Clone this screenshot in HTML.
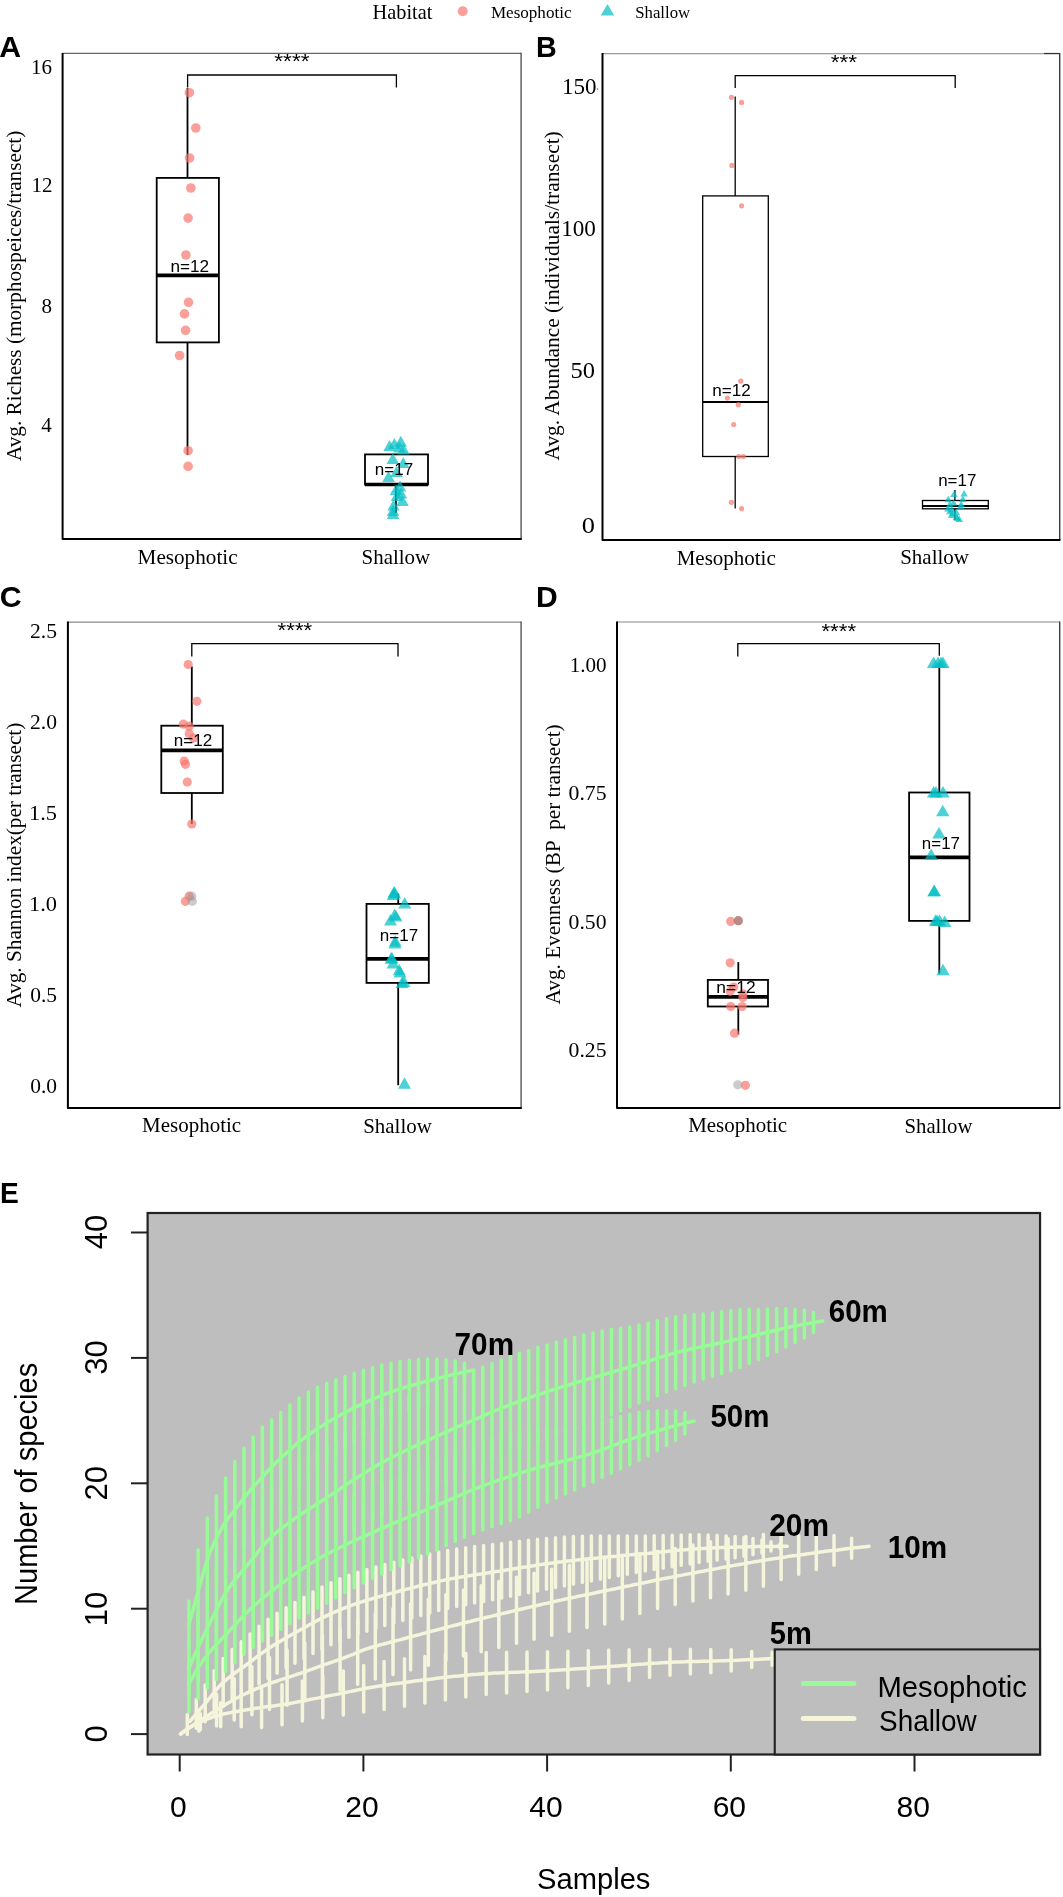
<!DOCTYPE html><html><head><meta charset="utf-8"><style>html,body{margin:0;padding:0;background:#fff;}svg{display:block;will-change:transform;} .s{font-family:"Liberation Sans",sans-serif;} .r{font-family:"Liberation Serif",serif;}</style></head><body><svg width="1063" height="1897" viewBox="0 0 1063 1897">
<rect width="1063" height="1897" fill="#fff"/>
<text x="372.61" y="19.3" class="r" font-size="20.2" fill="#000" textLength="59.80" lengthAdjust="spacingAndGlyphs">Habitat</text>
<circle cx="462.7" cy="11.3" r="5.0" fill="#F8766D" fill-opacity="0.7"/>
<text x="490.90" y="17.6" class="r" font-size="17" fill="#000" textLength="80.62" lengthAdjust="spacingAndGlyphs">Mesophotic</text>
<path d="M607.5,3.9 L600.75,15.50 L614.25,15.50Z" fill="#00BFC4" fill-opacity="0.7"/>
<text x="635.18" y="17.6" class="r" font-size="17" fill="#000" textLength="54.99" lengthAdjust="spacingAndGlyphs">Shallow</text>
<text x="-0.76" y="56.7" class="s" font-size="30" fill="#000" font-weight="bold" textLength="21.85" lengthAdjust="spacingAndGlyphs">A</text>
<line x1="62.6" y1="53.4" x2="521.1" y2="53.4" stroke="#666" stroke-width="1.2" stroke-linecap="butt"/>
<line x1="521.1" y1="52.8" x2="521.1" y2="538.9" stroke="#555" stroke-width="1.4" stroke-linecap="butt"/>
<path d="M62.6,52.9 L62.6,538.9 L521.8000000000001,538.9" stroke="#000" stroke-width="2.0" fill="none" stroke-linejoin="round"/>
<text x="30.93" y="73.6" class="r" font-size="21">16</text>
<text x="31.45" y="192.4" class="r" font-size="21">12</text>
<text x="41.60" y="312.5" class="r" font-size="21">8</text>
<text x="41.14" y="432.2" class="r" font-size="21">4</text>
<text x="20.9" y="461.01" class="r" font-size="21.5" fill="#000" textLength="330.34" lengthAdjust="spacingAndGlyphs" transform="rotate(-90 20.9 461.01)">Avg. Richess (morphospeices/transect)</text>
<path d="M187.6,87.4 L187.6,75 L396.4,75 L396.4,87.4" stroke="#000" stroke-width="1.3" fill="none"/>
<text x="274.24" y="67.9" class="s" font-size="21" fill="#000" textLength="35.34" lengthAdjust="spacingAndGlyphs">****</text>
<line x1="187.5" y1="88" x2="187.5" y2="177.9" stroke="#000" stroke-width="1.8" stroke-linecap="butt"/>
<line x1="187.5" y1="342.4" x2="187.5" y2="455" stroke="#000" stroke-width="1.8" stroke-linecap="butt"/>
<rect x="156.7" y="177.9" width="62.20000000000002" height="164.49999999999997" fill="#fff" stroke="#000" stroke-width="1.8"/>
<line x1="156.7" y1="275.4" x2="218.9" y2="275.4" stroke="#000" stroke-width="3.7" stroke-linecap="butt"/>
<circle cx="189.4" cy="92.7" r="4.8" fill="#F8766D" fill-opacity="0.7"/>
<circle cx="195.8" cy="128" r="4.8" fill="#F8766D" fill-opacity="0.7"/>
<circle cx="189.6" cy="158" r="4.8" fill="#F8766D" fill-opacity="0.7"/>
<circle cx="190.8" cy="188" r="4.8" fill="#F8766D" fill-opacity="0.7"/>
<circle cx="188.1" cy="218.1" r="4.8" fill="#F8766D" fill-opacity="0.7"/>
<circle cx="185.9" cy="255" r="4.8" fill="#F8766D" fill-opacity="0.7"/>
<circle cx="188.5" cy="302.3" r="4.8" fill="#F8766D" fill-opacity="0.7"/>
<circle cx="184.5" cy="313.9" r="4.8" fill="#F8766D" fill-opacity="0.7"/>
<circle cx="185.6" cy="330.3" r="4.8" fill="#F8766D" fill-opacity="0.7"/>
<circle cx="179.6" cy="355.5" r="4.8" fill="#F8766D" fill-opacity="0.7"/>
<circle cx="188.1" cy="450.7" r="4.8" fill="#F8766D" fill-opacity="0.7"/>
<circle cx="188.1" cy="466.4" r="4.8" fill="#F8766D" fill-opacity="0.7"/>
<text x="170.47" y="271.5" class="s" font-size="16.8" fill="#000" textLength="38.70" lengthAdjust="spacingAndGlyphs">n=12</text>
<line x1="395.9" y1="484.5" x2="395.9" y2="454.4" stroke="#000" stroke-width="1.8" stroke-linecap="butt"/>
<line x1="395.9" y1="484.5" x2="395.9" y2="513" stroke="#000" stroke-width="1.8" stroke-linecap="butt"/>
<rect x="365" y="454.4" width="63" height="30.100000000000023" fill="#fff" stroke="#000" stroke-width="1.8"/>
<line x1="365" y1="484.5" x2="428" y2="484.5" stroke="#000" stroke-width="3.7" stroke-linecap="butt"/>
<path d="M389.6,440 L383.35,451.00 L395.85,451.00Z" fill="#00BFC4" fill-opacity="0.7"/>
<path d="M394.4,438 L388.15,449.00 L400.65,449.00Z" fill="#00BFC4" fill-opacity="0.7"/>
<path d="M400.75,435.75 L394.50,446.75 L407.00,446.75Z" fill="#00BFC4" fill-opacity="0.7"/>
<path d="M399.5,441.5 L393.25,452.50 L405.75,452.50Z" fill="#00BFC4" fill-opacity="0.7"/>
<path d="M403.5,443.5 L397.25,454.50 L409.75,454.50Z" fill="#00BFC4" fill-opacity="0.7"/>
<path d="M392.75,453 L386.50,464.00 L399.00,464.00Z" fill="#00BFC4" fill-opacity="0.7"/>
<path d="M403.25,457 L397.00,468.00 L409.50,468.00Z" fill="#00BFC4" fill-opacity="0.7"/>
<path d="M388.5,471 L382.25,482.00 L394.75,482.00Z" fill="#00BFC4" fill-opacity="0.7"/>
<path d="M396.5,466 L390.25,477.00 L402.75,477.00Z" fill="#00BFC4" fill-opacity="0.7"/>
<path d="M400,480.5 L393.75,491.50 L406.25,491.50Z" fill="#00BFC4" fill-opacity="0.7"/>
<path d="M396,484 L389.75,495.00 L402.25,495.00Z" fill="#00BFC4" fill-opacity="0.7"/>
<path d="M401,487.5 L394.75,498.50 L407.25,498.50Z" fill="#00BFC4" fill-opacity="0.7"/>
<path d="M402.5,495 L396.25,506.00 L408.75,506.00Z" fill="#00BFC4" fill-opacity="0.7"/>
<path d="M393.5,499.5 L387.25,510.50 L399.75,510.50Z" fill="#00BFC4" fill-opacity="0.7"/>
<path d="M393,505 L386.75,516.00 L399.25,516.00Z" fill="#00BFC4" fill-opacity="0.7"/>
<path d="M393,508 L386.75,519.00 L399.25,519.00Z" fill="#00BFC4" fill-opacity="0.7"/>
<path d="M397,490 L390.75,501.00 L403.25,501.00Z" fill="#00BFC4" fill-opacity="0.7"/>
<text x="374.88" y="474.6" class="s" font-size="16.8" fill="#000" textLength="38.38" lengthAdjust="spacingAndGlyphs">n=17</text>
<text x="137.59" y="563.9" class="r" font-size="21" fill="#000" textLength="99.96" lengthAdjust="spacingAndGlyphs">Mesophotic</text>
<text x="361.60" y="564" class="r" font-size="21" fill="#000" textLength="68.48" lengthAdjust="spacingAndGlyphs">Shallow</text>
<text x="535.98" y="56.7" class="s" font-size="30" fill="#000" font-weight="bold" textLength="20.72" lengthAdjust="spacingAndGlyphs">B</text>
<line x1="602.5" y1="53.6" x2="1059.7" y2="53.6" stroke="#999" stroke-width="1.2" stroke-linecap="butt"/>
<line x1="1059.7" y1="53.0" x2="1059.7" y2="540.0" stroke="#3a3a3a" stroke-width="1.4" stroke-linecap="butt"/>
<path d="M602.5,53.1 L602.5,540.0 L1060.4,540.0" stroke="#000" stroke-width="2.0" fill="none" stroke-linejoin="round"/>
<line x1="1044" y1="53.5" x2="1059.7" y2="53.5" stroke="#333" stroke-width="1.2" stroke-linecap="butt"/>
<circle cx="597.5" cy="89.1" r="0.8" fill="#555" fill-opacity="0.8"/>
<text x="561.98" y="93.5" class="r" font-size="22.5" fill="#000" textLength="34.50" lengthAdjust="spacingAndGlyphs">150</text>
<text x="561.16" y="236.2" class="r" font-size="22.5" fill="#000" textLength="34.72" lengthAdjust="spacingAndGlyphs">100</text>
<text x="570.48" y="377.8" class="r" font-size="22.5" fill="#000" textLength="24.45" lengthAdjust="spacingAndGlyphs">50</text>
<text x="581.80" y="532.7" class="r" font-size="22.5" fill="#000" textLength="13.21" lengthAdjust="spacingAndGlyphs">0</text>
<text x="559.4" y="460.41" class="r" font-size="21.5" fill="#000" textLength="329.15" lengthAdjust="spacingAndGlyphs" transform="rotate(-90 559.4 460.41)">Avg. Abundance (individuals/transect)</text>
<path d="M735.2,88 L735.2,75.7 L955.2,75.7 L955.2,88" stroke="#000" stroke-width="1.3" fill="none"/>
<text x="830.74" y="68.9" class="s" font-size="21" fill="#000" textLength="26.33" lengthAdjust="spacingAndGlyphs">***</text>
<line x1="735.2" y1="96.5" x2="735.2" y2="195.9" stroke="#000" stroke-width="1.3" stroke-linecap="butt"/>
<line x1="735.2" y1="456.5" x2="735.2" y2="508.6" stroke="#000" stroke-width="1.3" stroke-linecap="butt"/>
<rect x="702.7" y="195.9" width="65.59999999999991" height="260.6" fill="#fff" stroke="#000" stroke-width="1.3"/>
<line x1="702.7" y1="401.9" x2="768.3" y2="401.9" stroke="#000" stroke-width="2.0" stroke-linecap="butt"/>
<circle cx="731.4" cy="97.3" r="2.6" fill="#F8766D" fill-opacity="0.7"/>
<circle cx="741.6" cy="102.4" r="2.6" fill="#F8766D" fill-opacity="0.7"/>
<circle cx="731.9" cy="165.4" r="2.6" fill="#F8766D" fill-opacity="0.7"/>
<circle cx="741.6" cy="205.8" r="2.6" fill="#F8766D" fill-opacity="0.7"/>
<circle cx="740.8" cy="381.1" r="2.6" fill="#F8766D" fill-opacity="0.7"/>
<circle cx="727.4" cy="398.1" r="2.6" fill="#F8766D" fill-opacity="0.7"/>
<circle cx="738.3" cy="404.7" r="2.6" fill="#F8766D" fill-opacity="0.7"/>
<circle cx="733.7" cy="424.5" r="2.6" fill="#F8766D" fill-opacity="0.7"/>
<circle cx="738.8" cy="456.5" r="2.6" fill="#F8766D" fill-opacity="0.7"/>
<circle cx="743.4" cy="456.5" r="2.6" fill="#F8766D" fill-opacity="0.7"/>
<circle cx="731.4" cy="502.3" r="2.6" fill="#F8766D" fill-opacity="0.7"/>
<circle cx="741.6" cy="508.6" r="2.6" fill="#F8766D" fill-opacity="0.7"/>
<text x="712.37" y="396" class="s" font-size="17" fill="#000" textLength="38.49" lengthAdjust="spacingAndGlyphs">n=12</text>
<line x1="954.9" y1="490" x2="954.9" y2="500.5" stroke="#000" stroke-width="1.3" stroke-linecap="butt"/>
<line x1="954.9" y1="508.8" x2="954.9" y2="520" stroke="#000" stroke-width="1.3" stroke-linecap="butt"/>
<rect x="922.5" y="500.5" width="65.79999999999995" height="8.300000000000011" fill="#fff" stroke="#000" stroke-width="1.3"/>
<line x1="922.5" y1="505.9" x2="988.3" y2="505.9" stroke="#000" stroke-width="2.0" stroke-linecap="butt"/>
<path d="M954,490.6 L950.25,497.10 L957.75,497.10Z" fill="#00BFC4" fill-opacity="0.7"/>
<path d="M964.1,490 L960.35,496.50 L967.85,496.50Z" fill="#00BFC4" fill-opacity="0.7"/>
<path d="M948.2,495.8 L944.45,502.30 L951.95,502.30Z" fill="#00BFC4" fill-opacity="0.7"/>
<path d="M962.8,495.4 L959.05,501.90 L966.55,501.90Z" fill="#00BFC4" fill-opacity="0.7"/>
<path d="M949.8,500.7 L946.05,507.20 L953.55,507.20Z" fill="#00BFC4" fill-opacity="0.7"/>
<path d="M953.6,499.2 L949.85,505.70 L957.35,505.70Z" fill="#00BFC4" fill-opacity="0.7"/>
<path d="M961.2,500.7 L957.45,507.20 L964.95,507.20Z" fill="#00BFC4" fill-opacity="0.7"/>
<path d="M947.9,504.9 L944.15,511.40 L951.65,511.40Z" fill="#00BFC4" fill-opacity="0.7"/>
<path d="M951.7,505.9 L947.95,512.40 L955.45,512.40Z" fill="#00BFC4" fill-opacity="0.7"/>
<path d="M960.8,503 L957.05,509.50 L964.55,509.50Z" fill="#00BFC4" fill-opacity="0.7"/>
<path d="M949.8,507.8 L946.05,514.30 L953.55,514.30Z" fill="#00BFC4" fill-opacity="0.7"/>
<path d="M952.6,509.7 L948.85,516.20 L956.35,516.20Z" fill="#00BFC4" fill-opacity="0.7"/>
<path d="M956.4,508.8 L952.65,515.30 L960.15,515.30Z" fill="#00BFC4" fill-opacity="0.7"/>
<path d="M951.7,511.6 L947.95,518.10 L955.45,518.10Z" fill="#00BFC4" fill-opacity="0.7"/>
<path d="M957.4,514.5 L953.65,521.00 L961.15,521.00Z" fill="#00BFC4" fill-opacity="0.7"/>
<path d="M959.3,515.4 L955.55,521.90 L963.05,521.90Z" fill="#00BFC4" fill-opacity="0.7"/>
<path d="M956.4,513.5 L952.65,520.00 L960.15,520.00Z" fill="#00BFC4" fill-opacity="0.7"/>
<text x="938.18" y="485.8" class="s" font-size="17" fill="#000" textLength="38.17" lengthAdjust="spacingAndGlyphs">n=17</text>
<text x="676.69" y="564.5" class="r" font-size="21" fill="#000" textLength="99.05" lengthAdjust="spacingAndGlyphs">Mesophotic</text>
<text x="900.19" y="564.1" class="r" font-size="21" fill="#000" textLength="68.79" lengthAdjust="spacingAndGlyphs">Shallow</text>
<text x="-0.39" y="606.8" class="s" font-size="30" fill="#000" font-weight="bold" textLength="21.92" lengthAdjust="spacingAndGlyphs">C</text>
<line x1="67.9" y1="622.1" x2="521.1" y2="622.1" stroke="#888" stroke-width="1.4" stroke-linecap="butt"/>
<line x1="521.1" y1="621.5" x2="521.1" y2="1107.9" stroke="#555" stroke-width="1.4" stroke-linecap="butt"/>
<path d="M67.9,621.6 L67.9,1107.9 L521.8000000000001,1107.9" stroke="#000" stroke-width="2.0" fill="none" stroke-linejoin="round"/>
<text x="30.05" y="638.1" class="r" font-size="21" fill="#000" textLength="26.99" lengthAdjust="spacingAndGlyphs">2.5</text>
<text x="30.05" y="728.8" class="r" font-size="21" fill="#000" textLength="26.97" lengthAdjust="spacingAndGlyphs">2.0</text>
<text x="29.03" y="820.2" class="r" font-size="21" fill="#000" textLength="28.05" lengthAdjust="spacingAndGlyphs">1.5</text>
<text x="29.03" y="910.9" class="r" font-size="21" fill="#000" textLength="28.02" lengthAdjust="spacingAndGlyphs">1.0</text>
<text x="30.18" y="1002.4" class="r" font-size="21" fill="#000" textLength="26.85" lengthAdjust="spacingAndGlyphs">0.5</text>
<text x="30.18" y="1093" class="r" font-size="21" fill="#000" textLength="26.83" lengthAdjust="spacingAndGlyphs">0.0</text>
<text x="20.9" y="1007.61" class="r" font-size="21.5" fill="#000" textLength="284.94" lengthAdjust="spacingAndGlyphs" transform="rotate(-90 20.9 1007.61)">Avg. Shannon index(per transect)</text>
<path d="M191.8,656.4 L191.8,643.6 L398,643.6 L398,656.4" stroke="#000" stroke-width="1.3" fill="none"/>
<text x="277.54" y="637.3" class="s" font-size="21" fill="#000" textLength="34.73" lengthAdjust="spacingAndGlyphs">****</text>
<line x1="191.8" y1="666.5" x2="191.8" y2="725.7" stroke="#000" stroke-width="1.8" stroke-linecap="butt"/>
<line x1="191.8" y1="793" x2="191.8" y2="824" stroke="#000" stroke-width="1.8" stroke-linecap="butt"/>
<rect x="161.3" y="725.7" width="61.5" height="67.29999999999995" fill="#fff" stroke="#000" stroke-width="1.8"/>
<line x1="161.3" y1="750.3" x2="222.8" y2="750.3" stroke="#000" stroke-width="3.7" stroke-linecap="butt"/>
<circle cx="188.2" cy="664.5" r="4.6" fill="#F8766D" fill-opacity="0.7"/>
<circle cx="196.9" cy="701.3" r="4.6" fill="#F8766D" fill-opacity="0.7"/>
<circle cx="183.4" cy="724.2" r="4.6" fill="#F8766D" fill-opacity="0.7"/>
<circle cx="189.2" cy="726.2" r="4.6" fill="#F8766D" fill-opacity="0.7"/>
<circle cx="189.2" cy="733.8" r="4.6" fill="#F8766D" fill-opacity="0.7"/>
<circle cx="193.5" cy="738.1" r="4.6" fill="#F8766D" fill-opacity="0.7"/>
<circle cx="184.2" cy="761" r="4.6" fill="#F8766D" fill-opacity="0.7"/>
<circle cx="185.4" cy="764.3" r="4.6" fill="#F8766D" fill-opacity="0.7"/>
<circle cx="187.2" cy="782.1" r="4.6" fill="#F8766D" fill-opacity="0.7"/>
<circle cx="191.8" cy="824" r="4.6" fill="#F8766D" fill-opacity="0.7"/>
<circle cx="189.2" cy="896.2" r="4.6" fill="#F8766D" fill-opacity="0.7"/>
<circle cx="185.4" cy="901.3" r="4.6" fill="#F8766D" fill-opacity="0.7"/>
<circle cx="191.8" cy="896.2" r="4.6" fill="#999" fill-opacity="0.5"/>
<circle cx="192.3" cy="901.3" r="4.6" fill="#999" fill-opacity="0.5"/>
<text x="173.67" y="745.8" class="s" font-size="16.8" fill="#000" textLength="38.49" lengthAdjust="spacingAndGlyphs">n=12</text>
<line x1="398.2" y1="893.6" x2="398.2" y2="903.9" stroke="#000" stroke-width="1.8" stroke-linecap="butt"/>
<line x1="398.2" y1="982.9" x2="398.2" y2="1085.2" stroke="#000" stroke-width="1.8" stroke-linecap="butt"/>
<rect x="366.5" y="903.9" width="62.30000000000001" height="79.0" fill="#fff" stroke="#000" stroke-width="1.8"/>
<line x1="366.5" y1="958.8" x2="428.8" y2="958.8" stroke="#000" stroke-width="3.7" stroke-linecap="butt"/>
<path d="M394.2,885.7 L387.70,897.20 L400.70,897.20Z" fill="#00BFC4" fill-opacity="0.7"/>
<path d="M393.2,888.6 L386.70,900.10 L399.70,900.10Z" fill="#00BFC4" fill-opacity="0.7"/>
<path d="M404.7,897.1 L398.20,908.60 L411.20,908.60Z" fill="#00BFC4" fill-opacity="0.7"/>
<path d="M394.6,908.4 L388.10,919.90 L401.10,919.90Z" fill="#00BFC4" fill-opacity="0.7"/>
<path d="M390.5,914 L384.00,925.50 L397.00,925.50Z" fill="#00BFC4" fill-opacity="0.7"/>
<path d="M395.2,935 L388.70,946.50 L401.70,946.50Z" fill="#00BFC4" fill-opacity="0.7"/>
<path d="M391.2,951.9 L384.70,963.40 L397.70,963.40Z" fill="#00BFC4" fill-opacity="0.7"/>
<path d="M393,957 L386.50,968.50 L399.50,968.50Z" fill="#00BFC4" fill-opacity="0.7"/>
<path d="M399.1,963.7 L392.60,975.20 L405.60,975.20Z" fill="#00BFC4" fill-opacity="0.7"/>
<path d="M404,975.6 L397.50,987.10 L410.50,987.10Z" fill="#00BFC4" fill-opacity="0.7"/>
<path d="M402.1,976.6 L395.60,988.10 L408.60,988.10Z" fill="#00BFC4" fill-opacity="0.7"/>
<path d="M404.5,1077.3 L398.00,1088.80 L411.00,1088.80Z" fill="#00BFC4" fill-opacity="0.7"/>
<path d="M394.5,887 L388.00,898.50 L401.00,898.50Z" fill="#00BFC4" fill-opacity="0.7"/>
<path d="M392,952 L385.50,963.50 L398.50,963.50Z" fill="#00BFC4" fill-opacity="0.7"/>
<path d="M396,910 L389.50,921.50 L402.50,921.50Z" fill="#00BFC4" fill-opacity="0.7"/>
<path d="M395,937 L388.50,948.50 L401.50,948.50Z" fill="#00BFC4" fill-opacity="0.7"/>
<path d="M400,966 L393.50,977.50 L406.50,977.50Z" fill="#00BFC4" fill-opacity="0.7"/>
<text x="379.88" y="941" class="s" font-size="16.8" fill="#000" textLength="38.28" lengthAdjust="spacingAndGlyphs">n=17</text>
<text x="142.09" y="1132.4" class="r" font-size="21" fill="#000" textLength="99.05" lengthAdjust="spacingAndGlyphs">Mesophotic</text>
<text x="363.20" y="1132.6" class="r" font-size="21" fill="#000" textLength="68.58" lengthAdjust="spacingAndGlyphs">Shallow</text>
<text x="535.89" y="606.7" class="s" font-size="30" fill="#000" font-weight="bold" textLength="21.68" lengthAdjust="spacingAndGlyphs">D</text>
<line x1="617.0" y1="622.0" x2="1059.7" y2="622.0" stroke="#888" stroke-width="1.2" stroke-linecap="butt"/>
<line x1="1059.7" y1="621.4" x2="1059.7" y2="1107.9" stroke="#3c3c3c" stroke-width="1.4" stroke-linecap="butt"/>
<path d="M617.0,621.5 L617.0,1107.9 L1060.4,1107.9" stroke="#000" stroke-width="2.0" fill="none" stroke-linejoin="round"/>
<text x="569.65" y="671.6" class="r" font-size="21" fill="#000" textLength="36.85" lengthAdjust="spacingAndGlyphs">1.00</text>
<text x="568.58" y="799.9" class="r" font-size="21" fill="#000" textLength="37.97" lengthAdjust="spacingAndGlyphs">0.75</text>
<text x="568.58" y="928.6" class="r" font-size="21" fill="#000" textLength="37.95" lengthAdjust="spacingAndGlyphs">0.50</text>
<text x="568.58" y="1056.8" class="r" font-size="21" fill="#000" textLength="37.97" lengthAdjust="spacingAndGlyphs">0.25</text>
<text x="559.6" y="1004.41" class="r" font-size="21.5" fill="#000" textLength="280.05" lengthAdjust="spacingAndGlyphs" transform="rotate(-90 559.6 1004.41)">Avg. Evenness (BP&#160;&#160;per transect)</text>
<path d="M737.8,656.4 L737.8,643.7 L939.3,643.7 L939.3,655.7" stroke="#000" stroke-width="1.3" fill="none"/>
<text x="821.44" y="637.9" class="s" font-size="21" fill="#000" textLength="34.63" lengthAdjust="spacingAndGlyphs">****</text>
<line x1="738.3" y1="962.1" x2="738.3" y2="979.9" stroke="#000" stroke-width="1.8" stroke-linecap="butt"/>
<line x1="738.3" y1="1006.5" x2="738.3" y2="1034.5" stroke="#000" stroke-width="1.8" stroke-linecap="butt"/>
<rect x="707.8" y="979.9" width="60.200000000000045" height="26.600000000000023" fill="#fff" stroke="#000" stroke-width="1.8"/>
<line x1="707.8" y1="996.9" x2="768" y2="996.9" stroke="#000" stroke-width="3.7" stroke-linecap="butt"/>
<circle cx="730.7" cy="921.4" r="4.6" fill="#F8766D" fill-opacity="0.7"/>
<circle cx="738.3" cy="920.7" r="4.6" fill="#F8766D" fill-opacity="0.7"/>
<circle cx="730.2" cy="962.8" r="4.6" fill="#F8766D" fill-opacity="0.7"/>
<circle cx="733.7" cy="987" r="4.6" fill="#F8766D" fill-opacity="0.7"/>
<circle cx="730.2" cy="991.3" r="4.6" fill="#F8766D" fill-opacity="0.7"/>
<circle cx="742.9" cy="993.8" r="4.6" fill="#F8766D" fill-opacity="0.7"/>
<circle cx="742.9" cy="997.6" r="4.6" fill="#F8766D" fill-opacity="0.7"/>
<circle cx="730.7" cy="1006.5" r="4.6" fill="#F8766D" fill-opacity="0.7"/>
<circle cx="742.1" cy="1006.5" r="4.6" fill="#F8766D" fill-opacity="0.7"/>
<circle cx="734.5" cy="1033.2" r="4.6" fill="#F8766D" fill-opacity="0.7"/>
<circle cx="745.4" cy="1085.3" r="4.6" fill="#F8766D" fill-opacity="0.7"/>
<circle cx="738.3" cy="920.7" r="4.6" fill="#777" fill-opacity="0.5"/>
<circle cx="737.8" cy="1084.8" r="4.6" fill="#999" fill-opacity="0.5"/>
<text x="716.35" y="992.6" class="s" font-size="16.8" fill="#000" textLength="39.33" lengthAdjust="spacingAndGlyphs">n=12</text>
<line x1="939.3" y1="663" x2="939.3" y2="792.5" stroke="#000" stroke-width="1.8" stroke-linecap="butt"/>
<line x1="939.3" y1="920.9" x2="939.3" y2="973.6" stroke="#000" stroke-width="1.8" stroke-linecap="butt"/>
<rect x="909.1" y="792.5" width="60.39999999999998" height="128.39999999999998" fill="#fff" stroke="#000" stroke-width="1.8"/>
<line x1="909.1" y1="857.3" x2="969.5" y2="857.3" stroke="#000" stroke-width="3.7" stroke-linecap="butt"/>
<path d="M933.6,656.4 L926.90,667.90 L940.30,667.90Z" fill="#00BFC4" fill-opacity="0.7"/>
<path d="M943,656.4 L936.30,667.90 L949.70,667.90Z" fill="#00BFC4" fill-opacity="0.7"/>
<path d="M938,656.4 L931.30,667.90 L944.70,667.90Z" fill="#00BFC4" fill-opacity="0.7"/>
<path d="M933.6,786 L926.90,797.50 L940.30,797.50Z" fill="#00BFC4" fill-opacity="0.7"/>
<path d="M943,786 L936.30,797.50 L949.70,797.50Z" fill="#00BFC4" fill-opacity="0.7"/>
<path d="M942.8,804.8 L936.10,816.30 L949.50,816.30Z" fill="#00BFC4" fill-opacity="0.7"/>
<path d="M939,827.1 L932.30,838.60 L945.70,838.60Z" fill="#00BFC4" fill-opacity="0.7"/>
<path d="M931.1,848.6 L924.40,860.10 L937.80,860.10Z" fill="#00BFC4" fill-opacity="0.7"/>
<path d="M934.3,884.5 L927.60,896.00 L941.00,896.00Z" fill="#00BFC4" fill-opacity="0.7"/>
<path d="M935.5,914.2 L928.80,925.70 L942.20,925.70Z" fill="#00BFC4" fill-opacity="0.7"/>
<path d="M939.5,914.2 L932.80,925.70 L946.20,925.70Z" fill="#00BFC4" fill-opacity="0.7"/>
<path d="M944.7,915.5 L938.00,927.00 L951.40,927.00Z" fill="#00BFC4" fill-opacity="0.7"/>
<path d="M943,963.7 L936.30,975.20 L949.70,975.20Z" fill="#00BFC4" fill-opacity="0.7"/>
<path d="M941,656.4 L934.30,667.90 L947.70,667.90Z" fill="#00BFC4" fill-opacity="0.7"/>
<path d="M936,786 L929.30,797.50 L942.70,797.50Z" fill="#00BFC4" fill-opacity="0.7"/>
<path d="M934,885 L927.30,896.50 L940.70,896.50Z" fill="#00BFC4" fill-opacity="0.7"/>
<path d="M937,914.5 L930.30,926.00 L943.70,926.00Z" fill="#00BFC4" fill-opacity="0.7"/>
<text x="921.88" y="848.6" class="s" font-size="16.8" fill="#000" textLength="38.07" lengthAdjust="spacingAndGlyphs">n=17</text>
<text x="688.19" y="1132.3" class="r" font-size="21" fill="#000" textLength="98.95" lengthAdjust="spacingAndGlyphs">Mesophotic</text>
<text x="904.51" y="1133.2" class="r" font-size="21" fill="#000" textLength="67.97" lengthAdjust="spacingAndGlyphs">Shallow</text>
<text x="0.11" y="1202.8" class="s" font-size="30" fill="#000" font-weight="bold" textLength="18.79" lengthAdjust="spacingAndGlyphs">E</text>
<rect x="147.5" y="1212.8" width="892.8" height="541.3" fill="#BEBEBE"/>
<clipPath id="pc"><rect x="147.5" y="1212.8" width="892.8" height="541.3"/></clipPath>
<g clip-path="url(#pc)">
<path d="M187.3,1714.5V1734.5M196.3,1699.5V1728.3M205.2,1684.9V1721.8M214.2,1670.7V1714.2M223.2,1658.4V1706.4M232.2,1649.5V1700.5M241.2,1641.7V1695.5M250.1,1634.0V1690.1M259.1,1626.2V1684.1M268.1,1619.2V1678.4M277.1,1613.2V1673.2M286.1,1607.7V1668.1M295.0,1602.4V1663.3M304.0,1597.3V1658.5M313.0,1592.0V1653.6M322.0,1587.1V1648.9M331.0,1582.8V1644.7M339.9,1578.8V1640.8M348.9,1575.3V1637.2M357.9,1572.2V1634.1M366.9,1569.5V1631.2M375.9,1566.9V1628.4M384.8,1564.5V1625.6M393.8,1562.2V1623.0M402.8,1560.1V1620.5M411.8,1557.9V1617.9M420.8,1555.9V1615.4M429.7,1553.9V1612.9M438.7,1552.1V1610.6M447.7,1550.4V1608.5M456.7,1548.9V1606.6M465.7,1547.7V1604.8M474.6,1546.5V1603.1M483.6,1545.5V1601.5M492.6,1544.4V1599.8M501.6,1543.4V1598.1M510.6,1542.3V1596.3M519.5,1541.3V1594.5M528.5,1540.2V1592.7M537.5,1539.3V1590.9M546.5,1538.4V1589.2M555.5,1537.7V1587.5M564.4,1537.1V1585.9M573.4,1536.6V1584.3M582.4,1536.3V1582.6M591.4,1536.1V1580.9M600.4,1536.1V1579.2M609.3,1536.1V1577.5M618.3,1536.1V1575.8M627.3,1536.1V1574.2M636.3,1536.0V1572.6M645.3,1535.9V1571.1M654.2,1535.7V1569.6M663.2,1535.4V1568.2M672.2,1535.2V1566.7M681.2,1534.9V1565.3M690.2,1534.8V1563.9M699.1,1534.7V1562.6M708.1,1534.9V1561.3M717.1,1535.3V1560.1M726.1,1535.9V1558.9M735.1,1536.6V1557.7M744.0,1537.5V1556.3M753.0,1538.6V1554.8M762.0,1539.9V1553.2M771.0,1541.8V1551.0M780.0,1544.1V1548.5" stroke="#F5F5DC" stroke-width="3.5" stroke-linecap="round" fill="none"/>
<polyline points="189.8,1721.5 192.8,1718.0 195.8,1714.4 198.8,1710.9 201.8,1707.4 204.8,1703.8 207.8,1700.3 210.8,1696.7 213.8,1692.9 216.8,1689.2 219.8,1685.7 222.8,1682.7 225.8,1680.1 228.8,1677.6 231.8,1675.3 234.8,1673.0 237.8,1670.9 240.8,1668.8 243.8,1666.7 246.8,1664.5 249.8,1662.3 252.8,1660.0 255.8,1657.6 258.8,1655.4 261.8,1653.1 264.9,1651.0 267.9,1648.9 270.9,1647.0 273.9,1645.1 276.9,1643.3 279.9,1641.5 282.9,1639.8 285.9,1638.0 288.9,1636.3 291.9,1634.6 294.9,1632.9 297.9,1631.3 300.9,1629.6 303.9,1628.0 306.9,1626.3 309.9,1624.6 312.9,1622.9 315.9,1621.2 318.9,1619.6 321.9,1618.1 324.9,1616.6 327.9,1615.1 330.9,1613.7 333.9,1612.4 336.9,1611.1 339.9,1609.8 342.9,1608.6 345.9,1607.4 348.9,1606.3 351.9,1605.2 354.9,1604.2 357.9,1603.2 360.9,1602.2 363.9,1601.2 366.9,1600.3 369.9,1599.4 372.9,1598.5 375.9,1597.6 378.9,1596.7 381.9,1595.9 384.9,1595.0 387.9,1594.2 390.9,1593.4 393.9,1592.6 396.9,1591.8 399.9,1591.0 402.9,1590.2 405.9,1589.4 408.9,1588.7 411.9,1587.9 415.0,1587.1 418.0,1586.3 421.0,1585.6 424.0,1584.8 427.0,1584.1 430.0,1583.4 433.0,1582.7 436.0,1582.0 439.0,1581.3 442.0,1580.6 445.0,1580.0 448.0,1579.4 451.0,1578.8 454.0,1578.3 457.0,1577.7 460.0,1577.2 463.0,1576.7 466.0,1576.2 469.0,1575.7 472.0,1575.2 475.0,1574.8 478.0,1574.3 481.0,1573.9 484.0,1573.4 487.0,1573.0 490.0,1572.5 493.0,1572.1 496.0,1571.6 499.0,1571.2 502.0,1570.7 505.0,1570.2 508.0,1569.7 511.0,1569.3 514.0,1568.8 517.0,1568.3 520.0,1567.8 523.0,1567.3 526.0,1566.9 529.0,1566.4 532.0,1565.9 535.0,1565.5 538.0,1565.0 541.0,1564.6 544.0,1564.1 547.0,1563.7 550.0,1563.3 553.0,1562.9 556.0,1562.5 559.0,1562.1 562.0,1561.8 565.1,1561.4 568.1,1561.0 571.1,1560.7 574.1,1560.4 577.1,1560.0 580.1,1559.7 583.1,1559.4 586.1,1559.1 589.1,1558.8 592.1,1558.5 595.1,1558.2 598.1,1557.9 601.1,1557.6 604.1,1557.3 607.1,1557.0 610.1,1556.7 613.1,1556.4 616.1,1556.2 619.1,1555.9 622.1,1555.6 625.1,1555.3 628.1,1555.1 631.1,1554.8 634.1,1554.5 637.1,1554.3 640.1,1554.0 643.1,1553.7 646.1,1553.4 649.1,1553.2 652.1,1552.9 655.1,1552.6 658.1,1552.3 661.1,1552.0 664.1,1551.7 667.1,1551.4 670.1,1551.1 673.1,1550.9 676.1,1550.6 679.1,1550.3 682.1,1550.0 685.1,1549.8 688.1,1549.5 691.1,1549.3 694.1,1549.0 697.1,1548.8 700.1,1548.6 703.1,1548.4 706.1,1548.2 709.1,1548.1 712.1,1547.9 715.2,1547.8 718.2,1547.7 721.2,1547.6 724.2,1547.5 727.2,1547.4 730.2,1547.3 733.2,1547.2 736.2,1547.1 739.2,1547.0 742.2,1547.0 745.2,1546.9 748.2,1546.8 751.2,1546.7 754.2,1546.7 757.2,1546.6 760.2,1546.6 763.2,1546.5 766.2,1546.5 769.2,1546.4 772.2,1546.4 775.2,1546.4 778.2,1546.3 781.2,1546.3 784.2,1546.3 787.2,1546.3" stroke="#F5F5DC" stroke-width="3.5" fill="none" stroke-linejoin="round" stroke-linecap="round"/>
<path d="M198.9,1711.2V1731.2M216.6,1694.1V1726.1M234.2,1678.8V1720.1M251.9,1666.8V1714.8M269.5,1657.5V1709.6M287.1,1650.0V1705.3M304.8,1642.7V1700.6M322.4,1635.4V1695.4M340.1,1628.3V1690.3M357.7,1620.3V1684.3M375.3,1613.5V1678.9M393.0,1608.5V1674.5M410.6,1603.9V1669.9M428.3,1599.2V1665.2M445.9,1594.6V1660.6M463.5,1590.1V1656.1M481.2,1585.7V1651.7M498.8,1581.4V1647.4M516.5,1577.3V1643.3M534.1,1573.2V1639.2M551.7,1569.2V1635.2M569.4,1565.3V1631.3M587.0,1561.5V1627.5M604.7,1557.9V1623.9M622.3,1555.5V1619.0M639.9,1553.5V1613.5M657.6,1551.2V1608.6M675.2,1548.4V1604.4M692.9,1545.1V1601.1M710.5,1541.7V1597.7M728.1,1538.8V1594.1M745.8,1536.4V1590.3M763.4,1534.4V1586.3M781.1,1535.6V1579.6M798.7,1535.8V1574.3M816.3,1535.8V1569.4M834.0,1535.5V1565.2M851.6,1538.2V1558.2" stroke="#F5F5DC" stroke-width="3.5" stroke-linecap="round" fill="none"/>
<polyline points="180.6,1734.0 184.1,1731.5 187.5,1729.0 191.0,1726.6 194.4,1724.2 197.9,1721.9 201.4,1719.6 204.8,1717.4 208.3,1715.2 211.7,1713.0 215.2,1710.9 218.7,1708.8 222.1,1706.7 225.6,1704.5 229.0,1702.4 232.5,1700.4 235.9,1698.5 239.4,1696.7 242.9,1695.0 246.3,1693.3 249.8,1691.7 253.2,1690.2 256.7,1688.7 260.2,1687.2 263.6,1685.8 267.1,1684.5 270.5,1683.2 274.0,1682.0 277.5,1680.8 280.9,1679.7 284.4,1678.6 287.8,1677.5 291.3,1676.3 294.8,1675.2 298.2,1674.0 301.7,1672.8 305.1,1671.5 308.6,1670.3 312.1,1669.1 315.5,1667.8 319.0,1666.6 322.4,1665.4 325.9,1664.2 329.3,1663.0 332.8,1661.8 336.3,1660.6 339.7,1659.4 343.2,1658.2 346.6,1656.9 350.1,1655.5 353.6,1654.1 357.0,1652.6 360.5,1651.2 363.9,1649.8 367.4,1648.6 370.9,1647.5 374.3,1646.5 377.8,1645.5 381.2,1644.6 384.7,1643.7 388.2,1642.8 391.6,1641.9 395.1,1641.0 398.5,1640.1 402.0,1639.2 405.5,1638.2 408.9,1637.3 412.4,1636.4 415.8,1635.5 419.3,1634.6 422.8,1633.6 426.2,1632.7 429.7,1631.8 433.1,1630.9 436.6,1630.0 440.0,1629.1 443.5,1628.2 447.0,1627.3 450.4,1626.4 453.9,1625.5 457.3,1624.7 460.8,1623.8 464.3,1622.9 467.7,1622.0 471.2,1621.2 474.6,1620.3 478.1,1619.5 481.6,1618.6 485.0,1617.8 488.5,1616.9 491.9,1616.1 495.4,1615.3 498.9,1614.4 502.3,1613.6 505.8,1612.8 509.2,1612.0 512.7,1611.1 516.2,1610.3 519.6,1609.5 523.1,1608.7 526.5,1607.9 530.0,1607.1 533.4,1606.3 536.9,1605.5 540.4,1604.7 543.8,1603.9 547.3,1603.2 550.7,1602.4 554.2,1601.6 557.7,1600.8 561.1,1600.1 564.6,1599.3 568.0,1598.6 571.5,1597.8 575.0,1597.1 578.4,1596.3 581.9,1595.6 585.3,1594.9 588.8,1594.2 592.3,1593.5 595.7,1592.8 599.2,1592.0 602.6,1591.3 606.1,1590.6 609.6,1589.9 613.0,1589.2 616.5,1588.5 619.9,1587.7 623.4,1587.0 626.8,1586.3 630.3,1585.6 633.8,1584.8 637.2,1584.1 640.7,1583.4 644.1,1582.7 647.6,1582.0 651.1,1581.2 654.5,1580.5 658.0,1579.8 661.4,1579.1 664.9,1578.4 668.4,1577.8 671.8,1577.1 675.3,1576.4 678.7,1575.7 682.2,1575.1 685.7,1574.4 689.1,1573.8 692.6,1573.1 696.0,1572.5 699.5,1571.8 703.0,1571.2 706.4,1570.5 709.9,1569.9 713.3,1569.2 716.8,1568.6 720.3,1567.9 723.7,1567.3 727.2,1566.7 730.6,1566.0 734.1,1565.4 737.5,1564.8 741.0,1564.2 744.5,1563.6 747.9,1563.0 751.4,1562.4 754.8,1561.8 758.3,1561.2 761.8,1560.6 765.2,1560.1 768.7,1559.5 772.1,1559.0 775.6,1558.4 779.1,1557.9 782.5,1557.4 786.0,1556.9 789.4,1556.3 792.9,1555.8 796.4,1555.4 799.8,1554.9 803.3,1554.4 806.7,1553.9 810.2,1553.4 813.7,1553.0 817.1,1552.5 820.6,1552.0 824.0,1551.6 827.5,1551.1 830.9,1550.7 834.4,1550.3 837.9,1549.9 841.3,1549.4 844.8,1549.0 848.2,1548.6 851.7,1548.2 855.2,1547.8 858.6,1547.4 862.1,1547.0 865.5,1546.7 869.0,1546.3" stroke="#F5F5DC" stroke-width="3.5" fill="none" stroke-linejoin="round" stroke-linecap="round"/>
<path d="M200.3,1713.8V1729.8M220.7,1702.8V1726.8M241.2,1694.7V1726.7M261.6,1687.5V1727.5M282.0,1684.7V1724.7M302.4,1681.0V1721.0M322.8,1676.3V1717.8M343.3,1671.0V1715.0M363.7,1665.5V1712.0M384.1,1661.4V1709.4M404.5,1658.7V1706.3M424.9,1656.6V1703.1M445.4,1654.8V1699.9M465.8,1653.5V1696.9M486.2,1652.6V1694.6M506.6,1652.2V1692.9M527.0,1652.0V1691.5M547.5,1651.8V1689.9M567.9,1651.3V1687.8M588.3,1650.7V1685.5M608.7,1650.1V1683.1M629.1,1649.7V1680.4M649.6,1649.4V1677.6M670.0,1649.3V1675.3M690.4,1649.3V1673.9M710.8,1649.4V1672.7M731.2,1649.8V1671.1M751.7,1651.5V1667.6M772.1,1652.2V1665.2M792.5,1652.5V1663.8M812.9,1652.7V1662.6M833.3,1652.8V1661.5M853.8,1652.9V1660.7M874.2,1653.0V1659.9M894.6,1653.0V1659.2M915.0,1653.0V1658.5M935.4,1653.1V1657.9M955.9,1653.1V1657.2M976.3,1653.1V1656.7M996.7,1653.1V1656.2M1017.1,1653.1V1655.7M1037.5,1653.1V1655.3M1058.0,1653.0V1655.0M1078.4,1652.9V1654.8" stroke="#F5F5DC" stroke-width="3.5" stroke-linecap="round" fill="none"/>
<polyline points="180.6,1734.0 185.0,1730.7 189.4,1727.7 193.9,1725.0 198.3,1722.7 202.7,1720.8 207.1,1719.1 211.5,1717.5 216.0,1716.1 220.4,1714.9 224.8,1713.8 229.2,1712.9 233.6,1712.0 238.0,1711.2 242.5,1710.4 246.9,1709.7 251.3,1709.0 255.7,1708.3 260.1,1707.7 264.6,1707.1 269.0,1706.5 273.4,1705.9 277.8,1705.3 282.2,1704.7 286.7,1704.0 291.1,1703.2 295.5,1702.4 299.9,1701.5 304.3,1700.7 308.8,1699.8 313.2,1698.9 317.6,1698.1 322.0,1697.2 326.4,1696.3 330.8,1695.4 335.3,1694.6 339.7,1693.7 344.1,1692.8 348.5,1691.9 352.9,1691.0 357.4,1690.0 361.8,1689.1 366.2,1688.3 370.6,1687.5 375.0,1686.8 379.5,1686.1 383.9,1685.4 388.3,1684.7 392.7,1684.1 397.1,1683.5 401.6,1682.9 406.0,1682.3 410.4,1681.7 414.8,1681.1 419.2,1680.6 423.7,1680.0 428.1,1679.4 432.5,1678.9 436.9,1678.3 441.3,1677.8 445.7,1677.3 450.2,1676.8 454.6,1676.3 459.0,1675.9 463.4,1675.4 467.8,1675.0 472.3,1674.6 476.7,1674.3 481.1,1673.9 485.5,1673.6 489.9,1673.4 494.4,1673.1 498.8,1672.9 503.2,1672.7 507.6,1672.5 512.0,1672.3 516.5,1672.2 520.9,1672.0 525.3,1671.8 529.7,1671.7 534.1,1671.5 538.5,1671.3 543.0,1671.1 547.4,1670.8 551.8,1670.6 556.2,1670.3 560.6,1670.1 565.1,1669.8 569.5,1669.5 573.9,1669.1 578.3,1668.8 582.7,1668.5 587.2,1668.2 591.6,1667.8 596.0,1667.5 600.4,1667.2 604.8,1666.9 609.3,1666.5 613.7,1666.2 618.1,1665.9 622.5,1665.6 626.9,1665.2 631.3,1664.9 635.8,1664.5 640.2,1664.2 644.6,1663.9 649.0,1663.5 653.4,1663.2 657.9,1663.0 662.3,1662.7 666.7,1662.5 671.1,1662.3 675.5,1662.1 680.0,1661.9 684.4,1661.8 688.8,1661.6 693.2,1661.5 697.6,1661.4 702.1,1661.3 706.5,1661.2 710.9,1661.0 715.3,1660.9 719.7,1660.8 724.1,1660.7 728.6,1660.5 733.0,1660.4 737.4,1660.2 741.8,1660.0 746.2,1659.8 750.7,1659.6 755.1,1659.4 759.5,1659.2 763.9,1659.0 768.3,1658.8 772.8,1658.7 777.2,1658.5 781.6,1658.4 786.0,1658.3 790.4,1658.2 794.9,1658.1 799.3,1658.0 803.7,1657.8 808.1,1657.7 812.5,1657.6 816.9,1657.5 821.4,1657.4 825.8,1657.3 830.2,1657.2 834.6,1657.2 839.0,1657.1 843.5,1657.0 847.9,1656.9 852.3,1656.8 856.7,1656.7 861.1,1656.6 865.6,1656.6 870.0,1656.5 874.4,1656.4 878.8,1656.3 883.2,1656.3 887.7,1656.2 892.1,1656.1 896.5,1656.1 900.9,1656.0 905.3,1655.9 909.8,1655.8 914.2,1655.8 918.6,1655.7 923.0,1655.6 927.4,1655.6 931.8,1655.5 936.3,1655.4 940.7,1655.4 945.1,1655.3 949.5,1655.3 953.9,1655.2 958.4,1655.1 962.8,1655.1 967.2,1655.0 971.6,1654.9 976.0,1654.9 980.5,1654.8 984.9,1654.8 989.3,1654.7 993.7,1654.7 998.1,1654.6 1002.6,1654.6 1007.0,1654.5 1011.4,1654.5 1015.8,1654.4 1020.2,1654.4 1024.6,1654.3 1029.1,1654.3 1033.5,1654.2 1037.9,1654.2 1042.3,1654.1 1046.7,1654.1 1051.2,1654.1 1055.6,1654.0 1060.0,1654.0" stroke="#F5F5DC" stroke-width="3.5" fill="none" stroke-linejoin="round" stroke-linecap="round"/>
<path d="M188.9,1643.0V1693.0M198.1,1613.6V1681.4M207.3,1588.2V1668.2M216.4,1566.7V1653.1M225.6,1547.3V1638.8M234.8,1532.2V1627.7M244.0,1519.9V1618.2M253.2,1508.1V1608.1M262.4,1496.2V1597.2M271.6,1485.9V1587.8M280.7,1477.7V1580.3M289.9,1470.5V1573.7M299.1,1463.8V1567.4M308.3,1457.6V1561.5M317.5,1451.6V1555.6M326.7,1445.6V1549.6M335.8,1439.6V1543.6M345.0,1433.5V1537.5M354.2,1427.5V1531.5M363.4,1421.6V1525.6M372.6,1416.0V1520.0M381.8,1410.7V1514.7M391.0,1405.8V1509.8M400.1,1401.2V1505.2M409.3,1396.8V1500.8M418.5,1392.6V1496.4M427.7,1388.6V1492.0M436.9,1384.8V1487.4M446.1,1381.1V1482.8M455.2,1377.5V1478.3M464.4,1374.0V1473.8M473.6,1370.5V1469.4M482.8,1367.0V1465.0M492.0,1363.5V1460.8M501.2,1360.0V1456.6M510.4,1356.6V1452.7M519.5,1353.4V1448.9M528.7,1350.5V1445.3M537.9,1347.6V1441.9M547.1,1344.9V1438.5M556.3,1342.3V1435.2M565.5,1339.8V1432.0M574.7,1337.4V1428.7M583.8,1335.1V1425.4M593.0,1332.9V1422.2M602.2,1330.9V1418.9M611.4,1329.3V1415.1M620.6,1328.3V1411.0M629.8,1326.9V1406.9M639.0,1325.1V1403.1M648.1,1322.9V1399.4M657.3,1320.7V1395.7M666.5,1318.6V1392.1M675.7,1316.8V1388.7M684.9,1315.4V1385.4M694.1,1314.6V1382.1M703.2,1314.0V1379.0M712.4,1313.0V1376.2M721.6,1311.8V1373.5M730.8,1310.5V1370.7M740.0,1309.6V1367.6M749.2,1309.3V1363.6M758.4,1309.4V1359.4M767.5,1308.9V1355.5M776.7,1308.5V1351.5M785.9,1308.7V1347.1M795.1,1309.5V1342.5M804.3,1310.3V1338.0M813.5,1312.5V1332.5" stroke="#98FB98" stroke-width="3.5" stroke-linecap="round" fill="none"/>
<polyline points="188.9,1668.0 192.1,1660.7 195.3,1653.6 198.4,1646.7 201.6,1639.9 204.8,1633.2 208.0,1626.7 211.2,1620.4 214.4,1614.0 217.5,1607.7 220.7,1601.6 223.9,1595.9 227.1,1590.6 230.3,1585.9 233.5,1581.6 236.7,1577.6 239.8,1573.8 243.0,1570.1 246.2,1566.5 249.4,1562.7 252.6,1558.8 255.8,1554.8 258.9,1550.9 262.1,1547.0 265.3,1543.2 268.5,1539.8 271.7,1536.7 274.9,1533.8 278.1,1531.2 281.2,1528.6 284.4,1526.2 287.6,1523.8 290.8,1521.5 294.0,1519.2 297.2,1517.0 300.4,1514.8 303.5,1512.6 306.7,1510.5 309.9,1508.5 313.1,1506.4 316.3,1504.3 319.5,1502.3 322.6,1500.2 325.8,1498.2 329.0,1496.1 332.2,1494.0 335.4,1491.9 338.6,1489.8 341.8,1487.7 344.9,1485.6 348.1,1483.5 351.3,1481.4 354.5,1479.3 357.7,1477.2 360.9,1475.2 364.0,1473.2 367.2,1471.2 370.4,1469.3 373.6,1467.4 376.8,1465.5 380.0,1463.7 383.2,1462.0 386.3,1460.2 389.5,1458.6 392.7,1456.9 395.9,1455.3 399.1,1453.7 402.3,1452.2 405.4,1450.6 408.6,1449.1 411.8,1447.6 415.0,1446.1 418.2,1444.7 421.4,1443.2 424.6,1441.7 427.7,1440.3 430.9,1438.8 434.1,1437.3 437.3,1435.9 440.5,1434.4 443.7,1433.0 446.8,1431.6 450.0,1430.2 453.2,1428.8 456.4,1427.4 459.6,1426.0 462.8,1424.6 466.0,1423.2 469.1,1421.9 472.3,1420.5 475.5,1419.1 478.7,1417.8 481.9,1416.4 485.1,1415.1 488.3,1413.7 491.4,1412.4 494.6,1411.0 497.8,1409.7 501.0,1408.4 504.2,1407.1 507.4,1405.8 510.5,1404.6 513.7,1403.3 516.9,1402.1 520.1,1401.0 523.3,1399.8 526.5,1398.7 529.7,1397.6 532.8,1396.5 536.0,1395.4 539.2,1394.3 542.4,1393.3 545.6,1392.2 548.8,1391.2 551.9,1390.1 555.1,1389.1 558.3,1388.1 561.5,1387.1 564.7,1386.1 567.9,1385.1 571.1,1384.2 574.2,1383.2 577.4,1382.2 580.6,1381.2 583.8,1380.3 587.0,1379.3 590.2,1378.4 593.3,1377.4 596.5,1376.5 599.7,1375.6 602.9,1374.7 606.1,1373.8 609.3,1372.8 612.5,1371.9 615.6,1371.0 618.8,1370.1 622.0,1369.2 625.2,1368.3 628.4,1367.3 631.6,1366.4 634.7,1365.4 637.9,1364.4 641.1,1363.4 644.3,1362.4 647.5,1361.4 650.7,1360.3 653.9,1359.3 657.0,1358.3 660.2,1357.3 663.4,1356.3 666.6,1355.3 669.8,1354.4 673.0,1353.5 676.2,1352.6 679.3,1351.8 682.5,1351.0 685.7,1350.2 688.9,1349.5 692.1,1348.8 695.3,1348.1 698.4,1347.5 701.6,1346.8 704.8,1346.2 708.0,1345.5 711.2,1344.9 714.4,1344.2 717.6,1343.5 720.7,1342.8 723.9,1342.1 727.1,1341.4 730.3,1340.7 733.5,1340.0 736.7,1339.3 739.8,1338.6 743.0,1337.9 746.2,1337.1 749.4,1336.4 752.6,1335.7 755.8,1335.0 759.0,1334.2 762.1,1333.5 765.3,1332.8 768.5,1332.0 771.7,1331.2 774.9,1330.4 778.1,1329.7 781.2,1328.9 784.4,1328.2 787.6,1327.5 790.8,1326.8 794.0,1326.2 797.2,1325.6 800.4,1324.9 803.5,1324.3 806.7,1323.7 809.9,1323.2 813.1,1322.6 816.3,1322.0 819.5,1321.5 822.7,1321.0" stroke="#98FB98" stroke-width="3.5" fill="none" stroke-linejoin="round" stroke-linecap="round"/>
<path d="M188.9,1656.0V1712.0M198.1,1637.3V1698.7M207.3,1621.9V1688.1M216.4,1609.5V1679.5M225.6,1598.5V1671.4M234.8,1587.3V1662.7M244.0,1576.3V1654.3M253.2,1565.9V1647.3M262.4,1556.2V1641.1M271.6,1547.2V1635.2M280.7,1539.0V1629.3M289.9,1531.3V1623.6M299.1,1524.1V1618.1M308.3,1517.1V1612.9M317.5,1510.7V1608.0M326.7,1505.3V1603.3M335.8,1500.9V1598.1M345.0,1497.2V1592.8M354.2,1493.7V1587.7M363.4,1490.2V1583.0M372.6,1486.7V1578.3M381.8,1482.9V1573.9M391.0,1479.1V1569.8M400.1,1475.3V1565.8M409.3,1471.5V1561.9M418.5,1467.8V1558.1M427.7,1464.1V1554.1M436.9,1460.5V1550.1M446.1,1456.7V1545.8M455.2,1453.0V1541.5M464.4,1449.2V1537.4M473.6,1445.5V1533.5M482.8,1441.9V1530.0M492.0,1438.3V1526.8M501.2,1434.9V1523.7M510.4,1431.7V1520.7M519.5,1429.4V1517.0M528.7,1428.4V1512.3M537.9,1428.2V1507.3M547.1,1428.2V1502.3M556.3,1428.0V1498.0M565.5,1427.3V1494.0M574.7,1426.5V1490.1M583.8,1425.4V1486.0M593.0,1423.9V1481.9M602.2,1421.7V1477.6M611.4,1419.2V1473.3M620.6,1416.6V1469.0M629.8,1414.2V1464.7M639.0,1412.3V1460.3M648.1,1411.2V1455.8M657.3,1410.8V1450.8M666.5,1410.7V1445.5M675.7,1411.0V1440.3M684.9,1412.7V1433.9" stroke="#98FB98" stroke-width="3.5" stroke-linecap="round" fill="none"/>
<polyline points="188.9,1684.0 191.4,1679.3 194.0,1674.8 196.5,1670.5 199.0,1666.5 201.6,1662.7 204.1,1659.1 206.7,1655.8 209.2,1652.6 211.7,1649.7 214.3,1646.9 216.8,1644.1 219.3,1641.5 221.9,1638.8 224.4,1636.2 227.0,1633.5 229.5,1630.8 232.0,1628.0 234.6,1625.3 237.1,1622.5 239.7,1619.8 242.2,1617.2 244.7,1614.6 247.3,1612.1 249.8,1609.7 252.3,1607.4 254.9,1605.1 257.4,1602.9 260.0,1600.7 262.5,1598.5 265.0,1596.4 267.6,1594.4 270.1,1592.3 272.7,1590.3 275.2,1588.4 277.7,1586.4 280.3,1584.5 282.8,1582.6 285.4,1580.8 287.9,1578.9 290.4,1577.1 293.0,1575.3 295.5,1573.5 298.0,1571.8 300.6,1570.1 303.1,1568.4 305.7,1566.7 308.2,1565.1 310.7,1563.4 313.3,1561.9 315.8,1560.4 318.4,1558.9 320.9,1557.4 323.4,1556.0 326.0,1554.6 328.5,1553.3 331.0,1551.9 333.6,1550.6 336.1,1549.4 338.7,1548.1 341.2,1546.9 343.7,1545.6 346.3,1544.4 348.8,1543.2 351.4,1542.0 353.9,1540.9 356.4,1539.7 359.0,1538.6 361.5,1537.4 364.0,1536.3 366.6,1535.2 369.1,1534.0 371.7,1532.9 374.2,1531.8 376.7,1530.7 379.3,1529.5 381.8,1528.4 384.4,1527.3 386.9,1526.2 389.4,1525.1 392.0,1524.0 394.5,1522.9 397.0,1521.8 399.6,1520.8 402.1,1519.7 404.7,1518.7 407.2,1517.6 409.7,1516.6 412.3,1515.5 414.8,1514.5 417.4,1513.4 419.9,1512.4 422.4,1511.3 425.0,1510.3 427.5,1509.2 430.0,1508.2 432.6,1507.1 435.1,1506.0 437.7,1504.9 440.2,1503.8 442.7,1502.7 445.3,1501.6 447.8,1500.5 450.4,1499.4 452.9,1498.3 455.4,1497.2 458.0,1496.1 460.5,1495.0 463.1,1493.9 465.6,1492.8 468.1,1491.7 470.7,1490.7 473.2,1489.7 475.7,1488.6 478.3,1487.7 480.8,1486.7 483.4,1485.7 485.9,1484.8 488.4,1483.9 491.0,1482.9 493.5,1482.0 496.1,1481.1 498.6,1480.2 501.1,1479.3 503.7,1478.5 506.2,1477.6 508.7,1476.8 511.3,1475.9 513.8,1475.1 516.4,1474.2 518.9,1473.4 521.4,1472.6 524.0,1471.8 526.5,1471.1 529.1,1470.3 531.6,1469.5 534.1,1468.8 536.7,1468.1 539.2,1467.4 541.7,1466.7 544.3,1466.0 546.8,1465.4 549.4,1464.7 551.9,1464.1 554.4,1463.4 557.0,1462.8 559.5,1462.2 562.1,1461.5 564.6,1460.9 567.1,1460.2 569.7,1459.6 572.2,1458.9 574.7,1458.3 577.3,1457.6 579.8,1456.9 582.4,1456.2 584.9,1455.4 587.4,1454.6 590.0,1453.9 592.5,1453.0 595.1,1452.2 597.6,1451.3 600.1,1450.4 602.7,1449.5 605.2,1448.6 607.7,1447.6 610.3,1446.7 612.8,1445.7 615.4,1444.7 617.9,1443.8 620.4,1442.8 623.0,1441.9 625.5,1441.0 628.1,1440.0 630.6,1439.1 633.1,1438.3 635.7,1437.4 638.2,1436.6 640.8,1435.8 643.3,1435.0 645.8,1434.2 648.4,1433.4 650.9,1432.7 653.4,1431.9 656.0,1431.2 658.5,1430.4 661.1,1429.7 663.6,1429.0 666.1,1428.3 668.7,1427.5 671.2,1426.8 673.8,1426.2 676.3,1425.5 678.8,1424.8 681.4,1424.2 683.9,1423.5 686.4,1422.9 689.0,1422.2 691.5,1421.6 694.1,1421.0" stroke="#98FB98" stroke-width="3.5" fill="none" stroke-linejoin="round" stroke-linecap="round"/>
<path d="M188.9,1601.0V1649.0M198.1,1550.0V1634.0M207.3,1518.0V1602.0M216.4,1496.0V1580.0M225.6,1478.0V1566.0M234.8,1461.4V1558.6M244.0,1448.6V1547.4M253.2,1437.1V1536.9M262.4,1427.0V1527.0M271.6,1420.0V1514.0M280.7,1412.4V1503.8M289.9,1404.9V1494.6M299.1,1398.0V1486.0M308.3,1392.0V1478.0M317.5,1387.3V1470.3M326.7,1383.3V1462.6M335.8,1379.8V1455.2M345.0,1376.5V1448.5M354.2,1373.3V1442.4M363.4,1370.3V1436.6M372.6,1367.4V1431.1M381.8,1365.0V1425.9M391.0,1363.0V1421.0M400.1,1361.5V1416.4M409.3,1360.3V1411.9M418.5,1359.4V1407.5M427.7,1359.0V1403.0M436.9,1359.1V1398.0M446.1,1359.9V1392.7M455.2,1361.1V1387.1M464.4,1363.0V1381.0" stroke="#98FB98" stroke-width="3.5" stroke-linecap="round" fill="none"/>
<polyline points="188.9,1625.0 190.3,1619.8 191.7,1614.6 193.2,1609.5 194.6,1604.3 196.0,1599.2 197.5,1594.1 198.9,1589.0 200.3,1583.8 201.8,1578.5 203.2,1573.3 204.6,1568.3 206.1,1563.6 207.5,1559.3 208.9,1555.4 210.3,1551.7 211.8,1548.2 213.2,1544.9 214.6,1541.7 216.1,1538.7 217.5,1535.9 218.9,1533.2 220.4,1530.6 221.8,1528.1 223.2,1525.7 224.7,1523.5 226.1,1521.3 227.5,1519.3 228.9,1517.4 230.4,1515.6 231.8,1513.8 233.2,1512.0 234.7,1510.2 236.1,1508.3 237.5,1506.4 239.0,1504.5 240.4,1502.6 241.8,1500.8 243.3,1498.9 244.7,1497.1 246.1,1495.4 247.5,1493.6 249.0,1491.9 250.4,1490.2 251.8,1488.5 253.3,1486.9 254.7,1485.3 256.1,1483.7 257.6,1482.2 259.0,1480.6 260.4,1479.1 261.9,1477.6 263.3,1476.0 264.7,1474.4 266.1,1472.8 267.6,1471.2 269.0,1469.7 270.4,1468.1 271.9,1466.7 273.3,1465.2 274.7,1463.8 276.2,1462.4 277.6,1461.1 279.0,1459.7 280.5,1458.3 281.9,1457.0 283.3,1455.7 284.8,1454.4 286.2,1453.1 287.6,1451.8 289.0,1450.5 290.5,1449.3 291.9,1448.0 293.3,1446.8 294.8,1445.6 296.2,1444.4 297.6,1443.2 299.1,1442.0 300.5,1440.9 301.9,1439.7 303.4,1438.6 304.8,1437.5 306.2,1436.5 307.6,1435.5 309.1,1434.5 310.5,1433.5 311.9,1432.5 313.4,1431.5 314.8,1430.6 316.2,1429.6 317.7,1428.7 319.1,1427.7 320.5,1426.8 322.0,1425.9 323.4,1425.0 324.8,1424.1 326.2,1423.2 327.7,1422.3 329.1,1421.5 330.5,1420.6 332.0,1419.7 333.4,1418.9 334.8,1418.1 336.3,1417.3 337.7,1416.5 339.1,1415.7 340.6,1414.9 342.0,1414.1 343.4,1413.3 344.8,1412.6 346.3,1411.9 347.7,1411.1 349.1,1410.4 350.6,1409.7 352.0,1408.9 353.4,1408.2 354.9,1407.5 356.3,1406.8 357.7,1406.1 359.2,1405.4 360.6,1404.7 362.0,1404.1 363.4,1403.4 364.9,1402.7 366.3,1402.1 367.7,1401.4 369.2,1400.8 370.6,1400.1 372.0,1399.5 373.5,1398.9 374.9,1398.3 376.3,1397.7 377.8,1397.1 379.2,1396.5 380.6,1395.9 382.0,1395.4 383.5,1394.8 384.9,1394.2 386.3,1393.7 387.8,1393.2 389.2,1392.6 390.6,1392.1 392.1,1391.6 393.5,1391.1 394.9,1390.6 396.4,1390.1 397.8,1389.7 399.2,1389.2 400.6,1388.7 402.1,1388.3 403.5,1387.8 404.9,1387.4 406.4,1387.0 407.8,1386.5 409.2,1386.1 410.7,1385.7 412.1,1385.3 413.5,1384.9 415.0,1384.5 416.4,1384.1 417.8,1383.7 419.2,1383.3 420.7,1382.9 422.1,1382.5 423.5,1382.1 425.0,1381.7 426.4,1381.3 427.8,1381.0 429.3,1380.6 430.7,1380.2 432.1,1379.8 433.6,1379.5 435.0,1379.1 436.4,1378.7 437.8,1378.3 439.3,1378.0 440.7,1377.6 442.1,1377.2 443.6,1376.9 445.0,1376.5 446.4,1376.2 447.9,1375.8 449.3,1375.5 450.7,1375.1 452.2,1374.8 453.6,1374.4 455.0,1374.1 456.5,1373.8 457.9,1373.4 459.3,1373.1 460.7,1372.8 462.2,1372.5 463.6,1372.1 465.0,1371.8 466.5,1371.5 467.9,1371.2 469.3,1370.9 470.8,1370.6 472.2,1370.3 473.6,1370.0" stroke="#98FB98" stroke-width="3.5" fill="none" stroke-linejoin="round" stroke-linecap="round"/>
</g>
<rect x="147.6" y="1213.0" width="892.45" height="541.50" fill="none" stroke="#222" stroke-width="2.2"/>
<rect x="774.75" y="1649.4" width="265.30" height="105.10" fill="#BEBEBE" stroke="#222" stroke-width="2.1"/>
<line x1="803.3" y1="1683.6" x2="853.9" y2="1683.6" stroke="#98FB98" stroke-width="5" stroke-linecap="round"/>
<line x1="803.3" y1="1718.5" x2="853.9" y2="1718.5" stroke="#F5F5DC" stroke-width="5" stroke-linecap="round"/>
<text x="877.40" y="1696.6" class="s" font-size="29.2" fill="#000" textLength="149.55" lengthAdjust="spacingAndGlyphs">Mesophotic</text>
<text x="879.02" y="1731.3" class="s" font-size="29.2" fill="#000" textLength="97.73" lengthAdjust="spacingAndGlyphs">Shallow</text>
<line x1="131" y1="1734.1" x2="147.5" y2="1734.1" stroke="#222" stroke-width="2.0" stroke-linecap="butt"/>
<text x="107.2" y="1742.42" class="s" font-size="31" fill="#000" textLength="17.24" lengthAdjust="spacingAndGlyphs" transform="rotate(-90 107.2 1742.42)">0</text>
<line x1="131" y1="1608.6999999999998" x2="147.5" y2="1608.6999999999998" stroke="#222" stroke-width="2.0" stroke-linecap="butt"/>
<text x="107.2" y="1626.21" class="s" font-size="31" fill="#000" textLength="34.48" lengthAdjust="spacingAndGlyphs" transform="rotate(-90 107.2 1626.21)">10</text>
<line x1="131" y1="1483.3" x2="147.5" y2="1483.3" stroke="#222" stroke-width="2.0" stroke-linecap="butt"/>
<text x="107.2" y="1500.41" class="s" font-size="31" fill="#000" textLength="34.48" lengthAdjust="spacingAndGlyphs" transform="rotate(-90 107.2 1500.41)">20</text>
<line x1="131" y1="1357.8999999999999" x2="147.5" y2="1357.8999999999999" stroke="#222" stroke-width="2.0" stroke-linecap="butt"/>
<text x="107.2" y="1374.82" class="s" font-size="31" fill="#000" textLength="34.48" lengthAdjust="spacingAndGlyphs" transform="rotate(-90 107.2 1374.82)">30</text>
<line x1="131" y1="1232.5" x2="147.5" y2="1232.5" stroke="#222" stroke-width="2.0" stroke-linecap="butt"/>
<text x="107.2" y="1249.19" class="s" font-size="31" fill="#000" textLength="34.48" lengthAdjust="spacingAndGlyphs" transform="rotate(-90 107.2 1249.19)">40</text>
<line x1="179.7" y1="1754.5" x2="179.7" y2="1771.5" stroke="#222" stroke-width="2.0" stroke-linecap="butt"/>
<text x="170.06" y="1817.3" class="s" font-size="30" fill="#000" textLength="16.68" lengthAdjust="spacingAndGlyphs">0</text>
<line x1="363.4" y1="1754.5" x2="363.4" y2="1771.5" stroke="#222" stroke-width="2.0" stroke-linecap="butt"/>
<text x="345.25" y="1817.3" class="s" font-size="30" fill="#000" textLength="33.37" lengthAdjust="spacingAndGlyphs">20</text>
<line x1="547.1" y1="1754.5" x2="547.1" y2="1771.5" stroke="#222" stroke-width="2.0" stroke-linecap="butt"/>
<text x="529.36" y="1817.3" class="s" font-size="30" fill="#000" textLength="33.37" lengthAdjust="spacingAndGlyphs">40</text>
<line x1="730.8" y1="1754.5" x2="730.8" y2="1771.5" stroke="#222" stroke-width="2.0" stroke-linecap="butt"/>
<text x="712.64" y="1817.3" class="s" font-size="30" fill="#000" textLength="33.37" lengthAdjust="spacingAndGlyphs">60</text>
<line x1="914.5" y1="1754.5" x2="914.5" y2="1771.5" stroke="#222" stroke-width="2.0" stroke-linecap="butt"/>
<text x="896.46" y="1817.3" class="s" font-size="30" fill="#000" textLength="33.37" lengthAdjust="spacingAndGlyphs">80</text>
<text x="537.06" y="1888.5" class="s" font-size="29.5" fill="#000" textLength="113.38" lengthAdjust="spacingAndGlyphs">Samples</text>
<text x="37.4" y="1604.98" class="s" font-size="31" fill="#000" textLength="242.23" lengthAdjust="spacingAndGlyphs" transform="rotate(-90 37.4 1604.98)">Number of species</text>
<text x="454.62" y="1355.4" class="s" font-size="30.5" fill="#000" font-weight="bold" textLength="59.43" lengthAdjust="spacingAndGlyphs">70m</text>
<text x="828.81" y="1321.9" class="s" font-size="30.5" fill="#000" font-weight="bold" textLength="59.03" lengthAdjust="spacingAndGlyphs">60m</text>
<text x="710.39" y="1426.7" class="s" font-size="30.5" fill="#000" font-weight="bold" textLength="58.95" lengthAdjust="spacingAndGlyphs">50m</text>
<text x="769.25" y="1535.7" class="s" font-size="30.5" fill="#000" font-weight="bold" textLength="59.81" lengthAdjust="spacingAndGlyphs">20m</text>
<text x="887.63" y="1557.9" class="s" font-size="30.5" fill="#000" font-weight="bold" textLength="59.43" lengthAdjust="spacingAndGlyphs">10m</text>
<text x="769.80" y="1644.3" class="s" font-size="30.5" fill="#000" font-weight="bold" textLength="42.01" lengthAdjust="spacingAndGlyphs">5m</text>
</svg></body></html>
